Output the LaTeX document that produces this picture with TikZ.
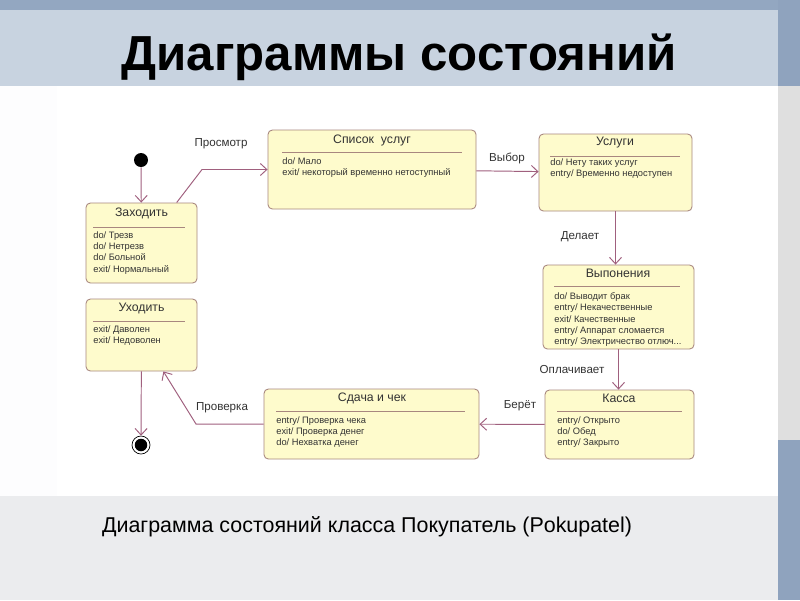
\documentclass[tikz,border=0pt]{standalone}
\usepackage{fontspec}
\setmainfont{Liberation Sans}
\usetikzlibrary{arrows.meta,positioning,fit}
\definecolor{Band}{HTML}{93A7C1}
\definecolor{Head}{HTML}{C8D3E0}
\definecolor{Side}{HTML}{8FA3BE}
\definecolor{Page}{HTML}{EBECEE}
\definecolor{Cream}{HTML}{FEFBCC}
\definecolor{Edge}{HTML}{A8877F}
\definecolor{Trans}{HTML}{A0607E}
\definecolor{Ink}{HTML}{333333}
\begin{document}
\begin{tikzpicture}[x=0.02cm,y=-0.02cm,
state/.style={draw=Edge,fill=Cream,rounded corners=2.5pt,line width=0.5pt,inner sep=0pt},
ttl/.style={font=\fontsize{7}{8}\selectfont,text=Ink,inner sep=0pt},
act/.style={font=\fontsize{5.3}{6.5}\selectfont,text=Ink,align=left,anchor=north west,inner sep=0pt},
sep/.style={draw=Edge,line width=0.5pt},
tr/.style={-{Straight Barb[length=1.3mm,width=2.4mm]},draw=Trans,line width=0.55pt},
lbl/.style={font=\fontsize{6.6}{7}\selectfont,text=Ink,inner sep=0pt}]
\useasboundingbox (0,0) rectangle (800,600);
\fill[Page] (0,0) rectangle (800,600);
\fill[Band] (0,0) rectangle (800,10);
\fill[Head] (0,10) rectangle (778,86);
\fill[Side] (778,0) rectangle (800,600);
\fill[gray!25] (778,86) rectangle (800,440);
\fill[white!96!Head] (0,86) rectangle (57,496);
\fill[white] (57,86) rectangle (778,496);
\node[font=\fontsize{28}{32}\bfseries\selectfont] (title) at (399,57) {Диаграммы состояний};
\node[font=\fontsize{12.2}{14}\selectfont] (caption) at (367,527) {Диаграмма состояний класса Покупатель (Pokupatel)};
\node[state,fit={(86,203) (197,283)}] (enter) {};
\node[ttl] (enterT) at (141.5,213) {Заходить};
\draw[sep] (93,227) -- (185,227);
\node[act] (enterA) at (93,231) {do/ Трезв\\do/ Нетрезв\\do/ Больной\\exit/ Нормальный};
\node[state,fit={(86,299) (197,371)}] (leave) {};
\node[ttl] (leaveT) at (141.5,308) {Уходить};
\draw[sep] (93,321) -- (185,321);
\node[act] (leaveA) at (93,325) {exit/ Даволен\\exit/ Недоволен};
\node[state,fit={(268,130) (476,209)}] (list) {};
\node[ttl] (listT) at (372,140) {Список\ \ услуг};
\draw[sep] (282,152) -- (462,152);
\node[act] (listA) at (282,157) {do/ Мало\\exit/ некоторый временно нетоступный};
\node[state,fit={(539,134) (692,211)}] (offer) {};
\node[ttl] (offerT) at (615,143) {Услуги};
\draw[sep] (550,156) -- (680,156);
\node[act] (offerA) at (550,158) {do/ Нету таких услуг\\entry/ Временно недоступен};
\node[state,fit={(543,265) (694,349)}] (work) {};
\node[ttl] (workT) at (618,273) {Выпонения};
\draw[sep] (554,286) -- (680,286);
\node[act] (workA) at (554,292) {do/ Выводит брак\\entry/ Некачественные\\exit/ Качественные\\entry/ Аппарат сломается\\entry/ Электричество отлюч...};
\node[state,fit={(545,390) (694,459)}] (till) {};
\node[ttl] (tillT) at (619,398) {Касса};
\draw[sep] (557,411) -- (682,411);
\node[act] (tillA) at (557,416) {entry/ Открыто\\do/ Обед\\entry/ Закрыто};
\node[state,fit={(264,389) (479,459)}] (change) {};
\node[ttl] (changeT) at (372,398) {Сдача и чек};
\draw[sep] (276,411) -- (465,411);
\node[act] (changeA) at (276,416) {entry/ Проверка чека\\exit/ Проверка денег\\do/ Нехватка денег};
\node[circle,fill=black,minimum size=0.28cm,inner sep=0pt] (start) at (141,160) {};
\node[circle,draw=black,fill=white,line width=0.4pt,minimum size=0.36cm,inner sep=0pt] (stop) at (141,445) {};
\node[circle,fill=black,minimum size=0.25cm,inner sep=0pt] (stopIn) at (stop) {};
\coordinate (bendA) at (202,169.5);
\coordinate (bendB) at (196,424);
\draw[tr] (start) -- (enter);
\draw[tr] (enter.49) -- (bendA) -- (list.west);
\draw[tr] (list) -- (offer);
\draw[tr] (offer.south) -- (offer.south|-work.north);
\draw[tr] (work.south) -- (work.south|-till.north);
\draw[tr] (till) -- (change);
\draw[tr] (change.west) -- (bendB) -- (leave.301);
\draw[tr] (leave) -- (stop);
\node[lbl] (viewL) at (221,144) {Просмотр};
\node[lbl] (pickL) at (507,158) {Выбор};
\node[lbl] (doL) at (580,237) {Делает};
\node[lbl] (payL) at (572,369) {Оплачивает};
\node[lbl] (takeL) at (520,406) {Берёт};
\node[lbl] (checkL) at (222,408) {Проверка};
\end{tikzpicture}
\end{document}
